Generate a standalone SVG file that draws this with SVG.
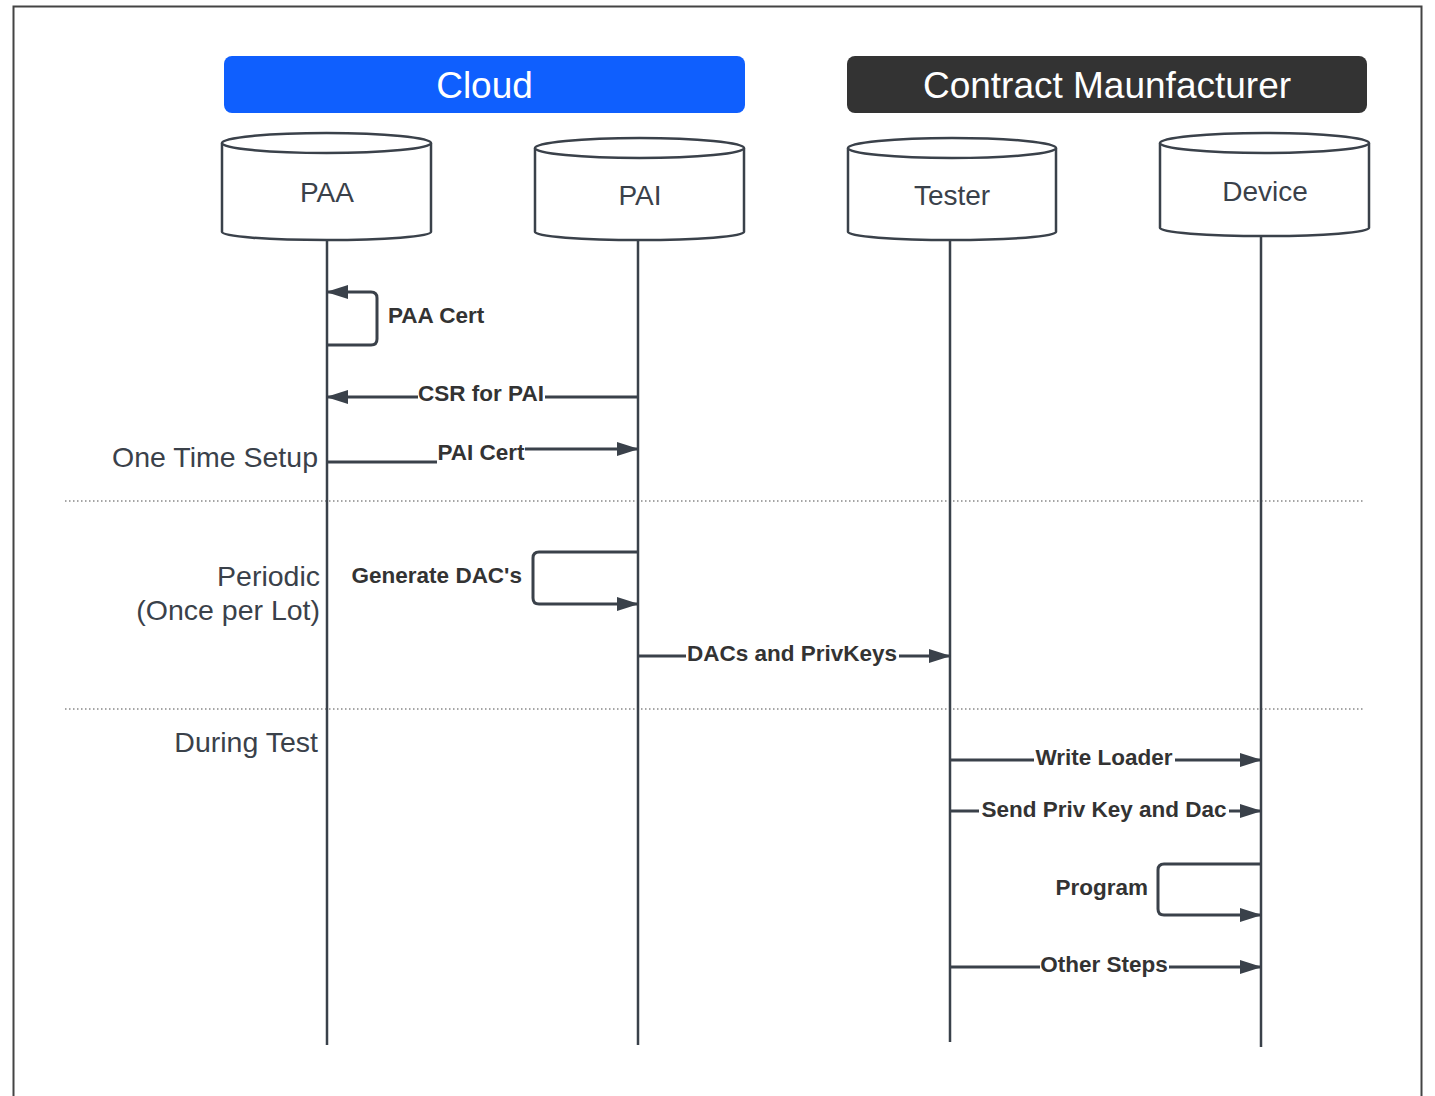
<svg xmlns="http://www.w3.org/2000/svg" width="1435" height="1096" viewBox="0 0 1435 1096">
  <style>
    .frame { fill: none; stroke: #444; stroke-width: 2; }
    .hdr { font-family: "Liberation Sans", Arial, sans-serif; font-size: 37px; fill: #fff; text-anchor: middle; }
    .cyl { fill: #fff; stroke: #3a414a; stroke-width: 2.5; }
    .cyl-t { font-family: "Liberation Sans", Arial, sans-serif; font-size: 28px; fill: #3a414a; text-anchor: middle; }
    .life { stroke: #3a414a; stroke-width: 2.5; fill: none; }
    .msg { stroke: #3a414a; stroke-width: 3; fill: none; stroke-linejoin: round; }
    .lbl { font-family: "Liberation Sans", Arial, sans-serif; font-size: 22.5px; font-weight: bold; fill: #333; }
    .bg { fill: #fff; }
    .phase { font-family: "Liberation Sans", Arial, sans-serif; font-size: 28.5px; fill: #3a414a; text-anchor: end; }
    .sep { stroke: #888; stroke-width: 1.5; stroke-dasharray: 1.5 2.5; }
  </style>
  <defs>
    <marker id="arrow" viewBox="0 0 22 14" refX="21" refY="7" markerWidth="22" markerHeight="14" markerUnits="userSpaceOnUse" orient="auto">
      <path d="M0,0 L22,7 L0,14 Z" fill="#3a414a"/>
    </marker>
  </defs>

  <rect class="frame" x="13.5" y="6.5" width="1408" height="1110"/>

  <!-- swimlane headers -->
  <g id="cloud">
    <rect x="224" y="56" width="521" height="57" rx="8" fill="#0f5ffe"/>
    <text class="hdr" x="484.5" y="98">Cloud</text>
  </g>
  <g id="contract-manufacturer">
    <rect x="847" y="56" width="520" height="57" rx="8" fill="#333"/>
    <text class="hdr" x="1107" y="98">Contract Maunfacturer</text>
  </g>

  <!-- phase labels and separators -->
  <g id="phases">
    <line class="sep" x1="65" y1="501" x2="1365" y2="501"/>
    <line class="sep" x1="65" y1="709" x2="1365" y2="709"/>
    <text class="phase" x="318" y="467">One Time Setup</text>
    <text class="phase" x="320" y="586">Periodic</text>
    <text class="phase" x="320" y="620">(Once per Lot)</text>
    <text class="phase" x="318" y="752">During Test</text>
  </g>

  <!-- participants -->
  <g id="paa">
    <line class="life" x1="327" y1="240" x2="327" y2="1045"/>
    <path class="cyl" d="M222,143 L222,232 A104.5,8 0 0 0 431,232 L431,143"/>
    <ellipse class="cyl" cx="326.5" cy="143" rx="104.5" ry="10"/>
    <text class="cyl-t" x="327" y="202">PAA</text>
  </g>
  <g id="pai">
    <line class="life" x1="638" y1="240" x2="638" y2="1045"/>
    <path class="cyl" d="M535,148 L535,232 A104.5,8 0 0 0 744,232 L744,148"/>
    <ellipse class="cyl" cx="639.5" cy="148" rx="104.5" ry="10"/>
    <text class="cyl-t" x="640" y="205">PAI</text>
  </g>
  <g id="tester">
    <line class="life" x1="950" y1="240" x2="950" y2="1042"/>
    <path class="cyl" d="M848,148 L848,232 A104,8 0 0 0 1056,232 L1056,148"/>
    <ellipse class="cyl" cx="952" cy="148" rx="104" ry="10"/>
    <text class="cyl-t" x="952" y="205">Tester</text>
  </g>
  <g id="device">
    <line class="life" x1="1261" y1="236" x2="1261" y2="1047"/>
    <path class="cyl" d="M1160,143 L1160,228 A104.5,8 0 0 0 1369,228 L1369,143"/>
    <ellipse class="cyl" cx="1264.5" cy="143" rx="104.5" ry="10"/>
    <text class="cyl-t" x="1265" y="201">Device</text>
  </g>

  <!-- messages -->
  <g id="connectors">
    <path class="msg" d="M327,345 L371,345 Q377,345 377,339 L377,298 Q377,292 371,292 L327,292" marker-end="url(#arrow)"/>
    <text class="lbl" x="388" y="323">PAA Cert</text>

    <path class="msg" d="M638,397 L327,397" marker-end="url(#arrow)"/>
    <rect class="bg" x="418" y="383" width="127" height="24"/>
    <text class="lbl" x="481" y="401" text-anchor="middle">CSR for PAI</text>

    <path class="msg" d="M327,462 L481,462 L481,449 L638,449" marker-end="url(#arrow)"/>
    <rect class="bg" x="437" y="442" width="88" height="24"/>
    <text class="lbl" x="481" y="460" text-anchor="middle">PAI Cert</text>

    <path class="msg" d="M638,552 L539,552 Q533,552 533,558 L533,598 Q533,604 539,604 L638,604" marker-end="url(#arrow)"/>
    <text class="lbl" x="522" y="583" text-anchor="end">Generate DAC's</text>

    <path class="msg" d="M638,656 L950,656" marker-end="url(#arrow)"/>
    <rect class="bg" x="686" y="643" width="213" height="24"/>
    <text class="lbl" x="792" y="661" text-anchor="middle">DACs and PrivKeys</text>

    <path class="msg" d="M950,760 L1261,760" marker-end="url(#arrow)"/>
    <rect class="bg" x="1034" y="747" width="141" height="24"/>
    <text class="lbl" x="1104" y="765" text-anchor="middle">Write Loader</text>

    <path class="msg" d="M950,811 L1261,811" marker-end="url(#arrow)"/>
    <rect class="bg" x="979" y="799" width="250" height="24"/>
    <text class="lbl" x="1104" y="817" text-anchor="middle">Send Priv Key and Dac</text>

    <path class="msg" d="M1261,864 L1164,864 Q1158,864 1158,870 L1158,909 Q1158,915 1164,915 L1261,915" marker-end="url(#arrow)"/>
    <text class="lbl" x="1148" y="895" text-anchor="end">Program</text>

    <path class="msg" d="M950,967 L1261,967" marker-end="url(#arrow)"/>
    <rect class="bg" x="1040" y="954" width="129" height="24"/>
    <text class="lbl" x="1104" y="972" text-anchor="middle">Other Steps</text>
  </g>
</svg>
